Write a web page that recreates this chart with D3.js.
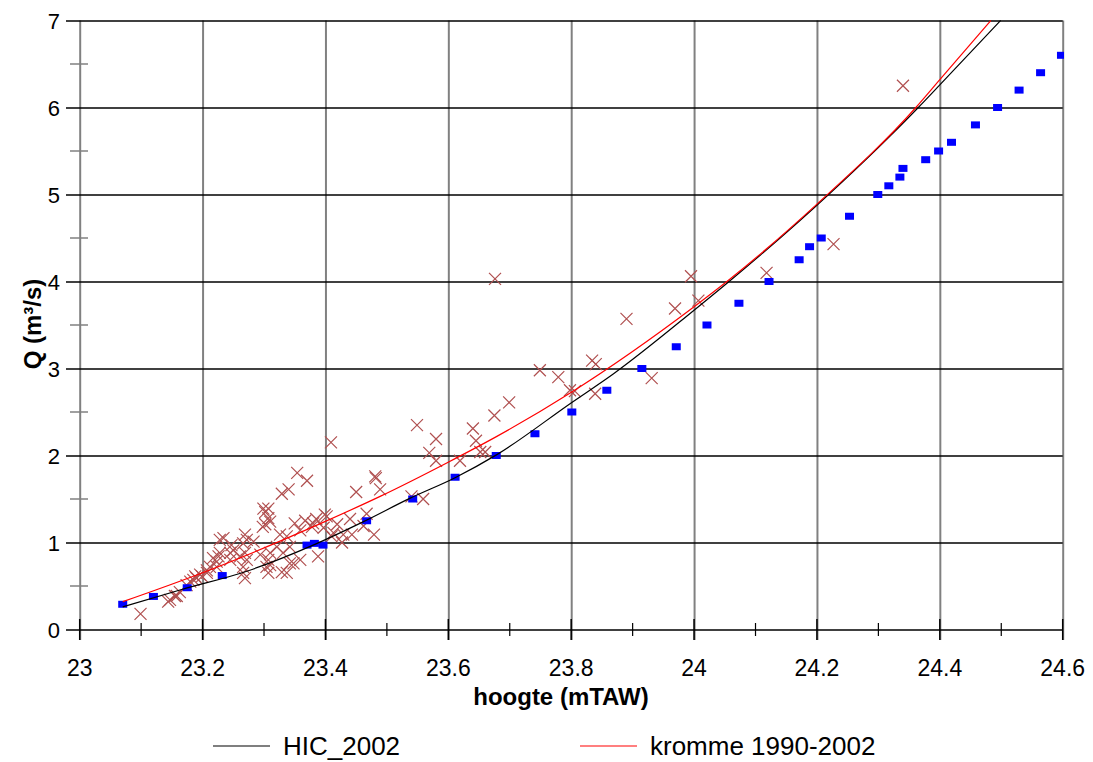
<!DOCTYPE html>
<meta charset="utf-8">
<style>
    body { margin: 0; background: #fff; font-family: 'Liberation Sans', Arial, sans-serif; }
    svg { display: block; }
</style>
<svg width="1093" height="762"></svg>
<script src="https://d3js.org/d3.v7.min.js"></script>
<script>

    // tick values
    var xTicks = [23, 23.2, 23.4, 23.6, 23.8, 24, 24.2, 24.4, 24.6];
    var xMinor = [23.1, 23.3, 23.5, 23.7, 23.9, 24.1, 24.3, 24.5];
    var yTicks = [0, 1, 2, 3, 4, 5, 6, 7];
    var yMinor = [0.5, 1.5, 2.5, 3.5, 4.5, 5.5, 6.5];

    // HIC_2002 rating curve (h, Q)
    var hicH = [23.07, 23.166, 23.272, 23.38, 23.462, 23.538, 23.611, 23.679, 23.801, 23.869, 24.0, 24.057, 24.219, 24.365, 24.4, 24.499];
    var hicQ = [0.26, 0.46, 0.67, 0.97, 1.24, 1.51, 1.745, 2.01, 2.61, 2.94, 3.67, 4.0, 5.0, 6.0, 6.26, 7.0];

    // kromme 1990-2002 rating curve (red line)
    var kromH = [23.07, 23.199, 23.399, 23.489, 23.599, 23.679, 23.801, 24.0, 24.057, 24.2, 24.361, 24.4, 24.483];
    var kromQ = [0.32, 0.65, 1.24, 1.53, 1.92, 2.22, 2.73, 3.71, 4.02, 4.89, 6.0, 6.32, 7.0];

    // blue squares
    var sqH = [23.07, 23.12, 23.175, 23.232, 23.37, 23.382, 23.396, 23.467, 23.542, 23.611, 23.678, 23.741, 23.801, 23.858, 23.915, 23.971,
        24.021, 24.073, 24.122, 24.171, 24.188, 24.207, 24.253, 24.299, 24.317, 24.335, 24.34, 24.377, 24.398, 24.419, 24.458, 24.494, 24.529, 24.564, 24.598];
    var sqQ = [0.29, 0.38, 0.48, 0.62, 0.97, 0.99, 0.97, 1.25, 1.5, 1.75, 2.0, 2.25, 2.5, 2.75, 3.0, 3.25,
        3.5, 3.75, 4.0, 4.25, 4.4, 4.5, 4.75, 5.0, 5.1, 5.2, 5.3, 5.4, 5.5, 5.6, 5.8, 6.0, 6.2, 6.4, 6.6];

    // measured discharges (crosses)
    var obsH = [23.099, 23.147, 23.144, 23.155, 23.163, 23.158, 23.174, 23.18, 23.185, 23.19, 23.196, 23.188, 23.199, 23.207, 23.207,
        23.212, 23.217, 23.223, 23.228, 23.226, 23.234, 23.228, 23.247, 23.25, 23.245, 23.269, 23.272, 23.283, 23.266, 23.245,
        23.261, 23.269, 23.272, 23.266, 23.266, 23.269, 23.223, 23.294, 23.31, 23.307, 23.304, 23.31, 23.307, 23.329, 23.337,
        23.342, 23.348, 23.359, 23.326, 23.337, 23.321, 23.342, 23.331, 23.302, 23.31, 23.35, 23.378, 23.299, 23.307, 23.302,
        23.307, 23.298, 23.367, 23.385, 23.354, 23.37, 23.34, 23.329, 23.409, 23.481, 23.482, 23.489, 23.45, 23.402, 23.399,
        23.397, 23.419, 23.44, 23.467, 23.462, 23.443, 23.429, 23.427, 23.479, 23.413, 23.359, 23.388, 23.38, 23.41, 23.549,
        23.58, 23.569, 23.58, 23.619, 23.64, 23.645, 23.652, 23.66, 23.675, 23.699, 23.54, 23.559, 23.676, 23.749, 23.779,
        23.806, 23.798, 23.839, 23.834, 23.84, 23.931, 23.89, 23.969, 24.007, 23.995, 24.118, 24.227, 24.34];
    var obsQ = [0.18, 0.34, 0.32, 0.385, 0.43, 0.385, 0.51, 0.55, 0.57, 0.59, 0.63, 0.61, 0.61, 0.68, 0.65,
        0.72, 0.82, 0.78, 0.88, 0.84, 1.05, 1.03, 0.97, 0.91, 0.88, 1.09, 1.03, 1.01, 0.99, 0.8,
        0.84, 0.88, 0.8, 0.72, 0.65, 0.59, 0.72, 0.86, 0.88, 0.8, 0.72, 0.74, 0.65, 0.66, 0.65,
        0.76, 0.76, 0.8, 1.09, 1.07, 0.95, 0.95, 0.88, 1.21, 1.24, 1.22, 1.18, 1.39, 1.39, 1.35,
        1.28, 1.18, 1.25, 1.27, 1.8, 1.71, 1.61, 1.56, 2.15, 1.76, 1.74, 1.61, 1.58, 1.3, 1.32,
        1.17, 1.21, 1.27, 1.33, 1.19, 1.09, 1.09, 1.0, 1.09, 1.11, 1.14, 0.84, 1.22, 1.07, 2.35,
        2.19, 2.03, 1.94, 1.94, 2.31, 2.17, 2.04, 2.04, 2.46, 2.61, 1.53, 1.5, 4.03, 2.98, 2.9,
        2.74, 2.75, 2.71, 3.09, 3.05, 2.89, 3.57, 3.69, 3.78, 4.06, 4.1, 4.43, 6.25];

    var svg = d3.select("svg");

    var x = d3.scaleLinear().domain([23, 24.6]).range([79.7, 1062.7]);
    var y = d3.scaleLinear().domain([0, 7]).range([629.5, 20.5]);

    svg.append("defs").append("clipPath").attr("id", "plot")
        .append("rect").attr("x", 79).attr("y", 20).attr("width", 985).attr("height", 612);

    // vertical grid (gray) incl. left axis and right border
    svg.append("g")
        .attr("transform", "translate(0,640)")
        .call(d3.axisBottom(x).tickValues(xTicks).tickSize(-619.5).tickFormat(""))
        .call(function (g) {
            g.select(".domain").remove();
            g.selectAll("line").attr("stroke", "#808080").attr("stroke-width", 2);
        });

    // horizontal grid (black)
    svg.append("g")
        .attr("transform", "translate(66,0)")
        .call(d3.axisLeft(y).tickValues(yTicks).tickSize(-996.7).tickFormat(""))
        .call(function (g) {
            g.select(".domain").remove();
            g.selectAll("line").attr("stroke", "#000").attr("stroke-width", 1.3);
        });

    // minor ticks
    svg.append("g").selectAll("line").data(yMinor).enter().append("line")
        .attr("x1", 70).attr("x2", 88)
        .attr("y1", function (d) { return y(d); }).attr("y2", function (d) { return y(d); })
        .attr("stroke", "#808080").attr("stroke-width", 1.5);
    svg.append("g").selectAll("line").data(xMinor).enter().append("line")
        .attr("x1", function (d) { return x(d); }).attr("x2", function (d) { return x(d); })
        .attr("y1", 623).attr("y2", 636)
        .attr("stroke", "#000").attr("stroke-width", 1.2);
    svg.append("g").selectAll("line").data(xTicks).enter().append("line")
        .attr("x1", function (d) { return x(d); }).attr("x2", function (d) { return x(d); })
        .attr("y1", 619).attr("y2", 640)
        .attr("stroke", "#000").attr("stroke-width", 1.5);

    // tick labels
    svg.append("g").selectAll("text").data(xTicks).enter().append("text")
        .attr("x", function (d) { return x(d); }).attr("y", 676)
        .attr("text-anchor", "middle")
        .style("font-size", "23px")
        .text(function (d) { return d; });
    svg.append("g").selectAll("text").data(yTicks).enter().append("text")
        .attr("x", 60).attr("y", function (d) { return y(d) + 8; })
        .attr("text-anchor", "end")
        .style("font-size", "22px")
        .text(function (d) { return d; });

    // axis titles
    svg.append("text")
        .attr("x", 561).attr("y", 705)
        .attr("text-anchor", "middle")
        .style("font-size", "24px").style("font-weight", "bold")
        .text("hoogte (mTAW)");
    svg.append("text")
        .attr("transform", "translate(41,324) rotate(-90)")
        .attr("text-anchor", "middle")
        .style("font-size", "24px").style("font-weight", "bold")
        .text("Q (m³/s)");

    var plot = svg.append("g").attr("clip-path", "url(#plot)");

    // crosses
    var obs = obsH.map(function (h, i) { return [h, obsQ[i]]; });
    plot.append("g").selectAll("path").data(obs).enter().append("path")
        .attr("d", function (d) {
            var cx = x(d[0]), cy = y(d[1]), r = 6;
            return "M" + (cx - r) + "," + (cy - r) + "L" + (cx + r) + "," + (cy + r) +
                "M" + (cx - r) + "," + (cy + r) + "L" + (cx + r) + "," + (cy - r);
        })
        .attr("stroke", "#b05050").attr("stroke-width", 1.2).attr("fill", "none");

    // blue squares
    var sq = sqH.map(function (h, i) { return [h, sqQ[i]]; });
    plot.append("g").selectAll("rect").data(sq).enter().append("rect")
        .attr("x", function (d) { return x(d[0]) - 4.5; })
        .attr("y", function (d) { return y(d[1]) - 3.5; })
        .attr("width", 9).attr("height", 7)
        .attr("fill", "#0000ff");

    var line = d3.line()
        .x(function (d) { return x(d[0]); })
        .y(function (d) { return y(d[1]); })
        .curve(d3.curveMonotoneX);

    plot.append("path")
        .datum(hicH.map(function (h, i) { return [h, hicQ[i]]; }))
        .attr("d", line).attr("fill", "none").attr("stroke", "#000").attr("stroke-width", 1.2);
    plot.append("path")
        .datum(kromH.map(function (h, i) { return [h, kromQ[i]]; }))
        .attr("d", line).attr("fill", "none").attr("stroke", "#ff0000").attr("stroke-width", 1.2);

    // legend
    var legend = [
        { name: "HIC_2002", color: "#000", x: 213 },
        { name: "kromme 1990-2002", color: "#ff0000", x: 580 }
    ];
    var lg = svg.append("g").selectAll("g").data(legend).enter().append("g")
        .attr("transform", function (d) { return "translate(" + d.x + ",746)"; });
    lg.append("line").attr("x1", 0).attr("x2", 57).attr("stroke", function (d) { return d.color; }).attr("stroke-width", 1.2);
    lg.append("text")
        .attr("x", 70).attr("y", 9)
        .style("font-size", "26px")
        .text(function (d) { return d.name; });

</script>
